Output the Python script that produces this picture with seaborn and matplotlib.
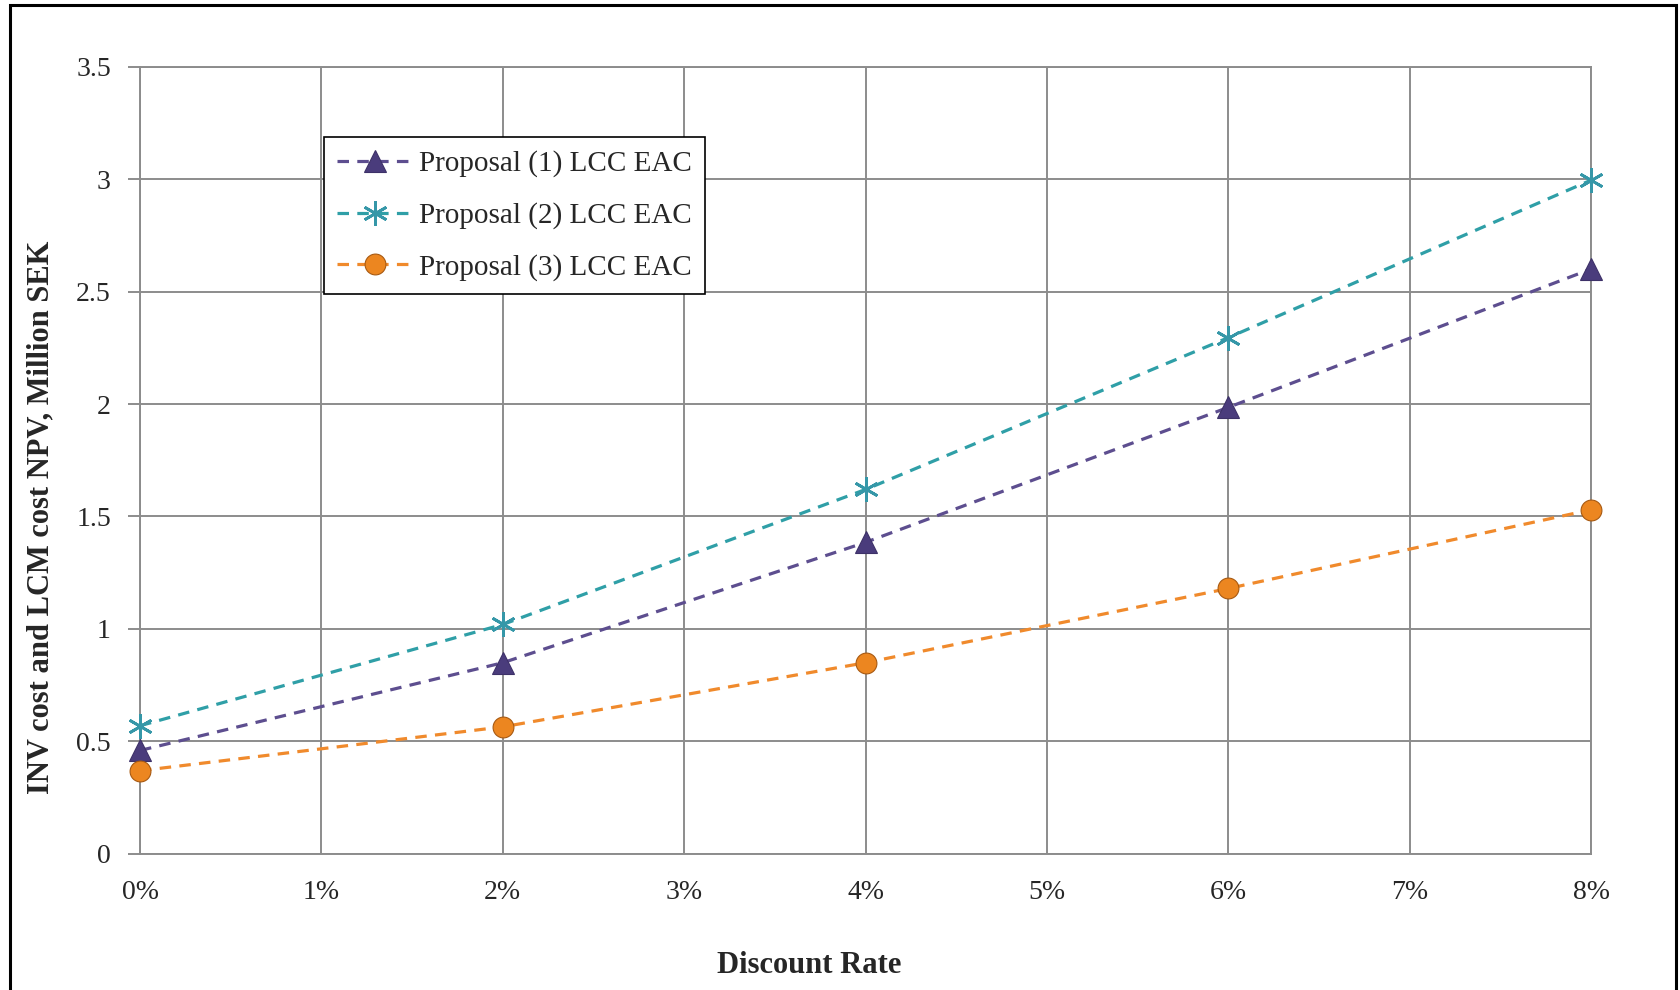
import matplotlib
matplotlib.use("Agg")
import matplotlib.pyplot as plt
import seaborn as sns
import pandas as pd
from matplotlib.patches import Rectangle
from matplotlib.ticker import FuncFormatter

# ---- data ----
rates = [0, 2, 4, 6, 8]  # discount rate, %
p1_lcc_eac = [0.46, 0.85, 1.385, 1.985, 2.60]
p2_lcc_eac = [0.57, 1.02, 1.62, 2.295, 2.995]
p3_lcc_eac = [0.37, 0.565, 0.85, 1.18, 1.53]
series_names = ["Proposal (1) LCC EAC", "Proposal (2) LCC EAC", "Proposal (3) LCC EAC"]
x_ticks = list(range(0, 9))
y_ticks = [0, 0.5, 1, 1.5, 2, 2.5, 3, 3.5]
x_label = "Discount Rate"
y_label = "INV cost and LCM cost NPV, Million SEK"

sns.set_theme(style="white")
plt.rcParams["font.family"] = ["Liberation Serif", "DejaVu Serif"]

fig = plt.figure(figsize=(16.81, 9.90), dpi=100)
ax = fig.add_axes([0.0833, 0.1374, 0.8632, 0.7954])

styles = [
    dict(color="#5d4e8f", marker="^", markersize=16, markerfacecolor="#4a3c7c",
         markeredgecolor="#3d3168", markeredgewidth=0.8),
    dict(color="#2f9fa7", marker=(6, 2, 0), markersize=18, markerfacecolor="none",
         markeredgecolor="#3597a8", markeredgewidth=2.0),
    dict(color="#f08a2c", marker="o", markersize=15, markerfacecolor="#ec8620",
         markeredgecolor="#a85a12", markeredgewidth=0.8),
]
values = [p1_lcc_eac, p2_lcc_eac, p3_lcc_eac]
for name, vals, st in zip(series_names, values, styles):
    df = pd.DataFrame({"rate": rates, "value": vals})
    sns.lineplot(data=df, x="rate", y="value", ax=ax, label=name,
                 linewidth=2.3, linestyle=(0, (3.6, 2.6)), zorder=3,
                 clip_on=False, **st)

ax.set_xlim(0, 8)
ax.set_ylim(0, 3.5)
ax.set_xticks(x_ticks)
ax.set_yticks(y_ticks)
ax.xaxis.set_major_formatter(FuncFormatter(lambda v, p: f"{int(v)}%"))
ax.yaxis.set_major_formatter(FuncFormatter(lambda v, p: f"{v:g}"))

ax.grid(True, color="#8c8c8c", linewidth=1.4)
ax.set_axisbelow(True)
for s in ax.spines.values():
    s.set_color("#8c8c8c")
    s.set_linewidth(1.4)
ax.tick_params(axis="y", which="major", direction="out", length=9, width=1.4,
               color="#8c8c8c", pad=12, labelsize=20, left=True)
ax.tick_params(axis="x", which="major", length=0, pad=19, labelsize=20)

ax.set_xlabel(x_label, fontsize=22, fontweight="bold", va="center")
ax.set_ylabel(y_label, fontsize=22, fontweight="bold", va="center")
ax.xaxis.set_label_coords(0.461, -0.141)
ax.yaxis.set_label_coords(-0.068, 0.428)

leg = ax.legend(loc="upper left", bbox_to_anchor=(0.127, 0.910), borderaxespad=0,
                fontsize=21, frameon=True, fancybox=False, handlelength=2.6,
                handletextpad=0.2, labelspacing=0.85, borderpad=0.45)
leg.get_frame().set_edgecolor("black")
leg.get_frame().set_linewidth(1.2)
leg.get_frame().set_facecolor("white")
leg.get_frame().set_alpha(1)

# outer chart border
fig.patches.append(Rectangle((10 / 1681, -0.05), (1676 - 10) / 1681,
                             1.05 - 5 / 990, transform=fig.transFigure,
                             fill=False, edgecolor="black", linewidth=2.2))

fig.savefig("out.png", dpi=100)
